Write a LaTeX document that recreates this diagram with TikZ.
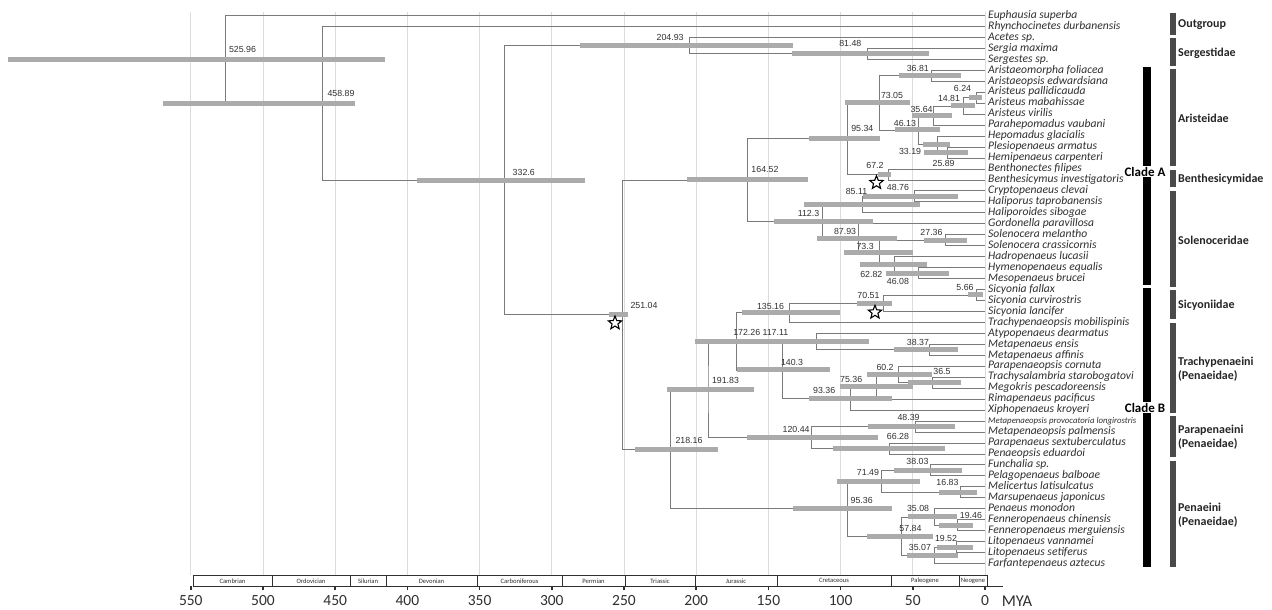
\documentclass[tikz,border=0pt]{standalone}
\usepackage{fontspec}
\setmainfont{Carlito}
\newfontfamily\agefont{Liberation Sans}
\usetikzlibrary{shapes.geometric}

\definecolor{branchgray}{HTML}{7A7A7A}
\definecolor{hpdgray}{HTML}{ABABAB}
\definecolor{gridgray}{HTML}{DCDCDC}
\definecolor{famgray}{HTML}{4A4A4A}
\definecolor{txtgray}{HTML}{303030}

\tikzset{
  branch/.style={draw=branchgray, line width=0.8pt},
  hpd/.style={draw=hpdgray, line width=5pt},
  taxon/.style={anchor=west, inner xsep=3pt, inner ysep=0pt, text height=8pt, text depth=2.5pt,
    font=\fontsize{11.6}{12}\selectfont\itshape, text=txtgray},
  agelbl/.style={font=\agefont\fontsize{8.8}{9}\selectfont, text=txtgray, inner sep=0pt},
  fossil/.style={star, star points=5, star point ratio=2.3, draw=black, fill=white,
    line width=1.1pt, minimum size=14pt, inner sep=0pt},
  family/.style={anchor=west, align=left, inner sep=0pt, text=black!85,
    font=\fontsize{12}{14}\selectfont\bfseries},
  cladelbl/.style={inner sep=0pt, font=\fontsize{13}{14}\selectfont\bfseries},
  period/.style={inner sep=0pt, text=txtgray, font=\fontsize{6.6}{7}\selectfont},
  ticklbl/.style={inner sep=0pt, text=txtgray, font=\fontsize{15.5}{16}\selectfont},
}

% node / age label / HPD left / HPD right / label shift x / label shift y
\def\nodelist{
  n52596/525.96/8/385/17/-9.5, n45889/458.89/163/355/18.6/-9.3,
  n3326/332.6/417/585/19/-8, n20493/204.93/580/793/-19/-8,
  n8148/81.48/792/929/-17/-10.5, n25104/251.04/609/628/21.5/-9,
  n16452/164.52/687/808/17.5/-10.7, n9534/95.34/809/880/15/-10.3,
  n7305/73.05/845/910/12.5/-7, n3681/36.81/899/961/-14/-7.5,
  n4613/46.13/895/940/-13.5/-6.6, n3564/35.64/912/952/-12/-6.5,
  n1481/14.81/951/975/-14.6/-7.6, n624/6.24/969/982/-13.5/-9.4,
  n3319/33.19/923/950/-27/7.4, n2589/25.89/924/968/-4/10.8,
  n672/67.2/878/891/-13/-9.4, n1123/112.3/774/873/-14.3/-8,
  n8511/85.11/804/920/-5.6/-12.9, n4876/48.76/863/958/-16.6/-8.6,
  n8793/87.93/817/897/-13/-7, n733/73.3/844/913/-14/-6.5,
  n2736/27.36/924/967/-14/-8, n6282/62.82/860/927/-23/9.2,
  n4608/46.08/886/949/-20.5/8.6, n21816/218.16/635/718/19/-9,
  n19183/191.83/667/754/17.5/-8.7, n17226/172.26/695/785/10.5/-8.7,
  n13516/135.16/742/840/-19.3/-6.8, n7051/70.51/857/892/-14.7/-8.2,
  n566/5.66/968/983/-11.8/-7.7, n1403/140.3/737/830/9.6/-7.3,
  n11711/117.11/763/869/-40.5/-9, n3837/38.37/894/958/-11.6/-7,
  n9336/93.36/809/892/-26/-7.7, n7536/75.36/840/913/-25/-7.5,
  n602/60.2/867/932/-13/-7, n365/36.5/908/961/9.7/-11,
  n12044/120.44/747/878/-15/-8.2, n4839/48.39/868/955/-6.6/-9.2,
  n6628/66.28/833/945/8.7/-11.7, n9536/95.36/793/892/14.4/-8.7,
  n7149/71.49/837/920/-13.8/-9, n3803/38.03/894/962/-12.6/-8.6,
  n1683/16.83/939/977/-13.2/-10, n5784/57.84/867/933/9/-7.8,
  n3508/35.08/908/957/-16.3/-8.6, n1946/19.46/939/973/14/-9.4,
  n3507/35.07/907/958/-14.4/-7.6, n1952/19.52/937/973/-10.8/-8.8}

\begin{document}
\begin{tikzpicture}[x=1pt, y=-1pt]
  \useasboundingbox (0,0) rectangle (1272,610);
  \fill[white] (0,0) rectangle (1272,610);

  % time grid, every 50 MYA
  \foreach \k in {0,...,11}
    \draw[gridgray, line width=0.8pt] (985-72.2*\k,12) -- (985-72.2*\k,575);

  \begin{scope}[shift={(985,15.5)}, x=-1.444pt, y=-10.96pt]
    \foreach \sp [count=\i from 0] in {Euphausia superba, Rhynchocinetes durbanensis, Acetes sp.,
      Sergia maxima, Sergestes sp., Aristaeomorpha foliacea, Aristaeopsis edwardsiana,
      Aristeus pallidicauda, Aristeus mabahissae, Aristeus virilis, Parahepomadus vaubani,
      Hepomadus glacialis, Plesiopenaeus armatus, Hemipenaeus carpenteri, Benthonectes filipes,
      Benthesicymus investigatoris, Cryptopenaeus clevai, Haliporus taprobanensis,
      Haliporoides sibogae, Gordonella paravillosa, Solenocera melantho, Solenocera crassicornis,
      Hadropenaeus lucasii, Hymenopenaeus equalis, Mesopenaeus brucei, Sicyonia fallax,
      Sicyonia curvirostris, Sicyonia lancifer, Trachypenaeopsis mobilispinis,
      Atypopenaeus dearmatus, Metapenaeus ensis, Metapenaeus affinis, Parapenaeopsis cornuta,
      Trachysalambria starobogatovi, Megokris pescadoreensis, Rimapenaeus pacificus,
      Xiphopenaeus kroyeri, {\fontsize{8.8}{9}\selectfont Metapenaeopsis provocatoria longirostris},
      Metapenaeopsis palmensis, Parapenaeus sextuberculatus, Penaeopsis eduardoi, Funchalia sp.,
      Pelagopenaeus balboae, Melicertus latisulcatus, Marsupenaeus japonicus, Penaeus monodon,
      Fenneropenaeus chinensis, Fenneropenaeus merguiensis, Litopenaeus vannamei,
      Litopenaeus setiferus, Farfantepenaeus aztecus}
      \node[taxon] (t\i) at (0,\i) {\sp};

    % internal nodes at (age, row)
    \foreach \nd/\a/\r in {n52596/525.96/4.004, n45889/458.89/8.008, n3326/332.6/15.017,
      n20493/204.93/2.75, n8148/81.48/3.5, n25104/251.04/27.283, n16452/164.52/15.008,
      n9534/95.34/11.234, n7305/73.05/7.969, n3681/36.81/5.5, n4613/46.13/10.438,
      n3564/35.64/9.125, n1481/14.81/8.25, n624/6.24/7.5, n3319/33.19/11.75,
      n2589/25.89/12.5, n672/67.2/14.5, n1123/112.3/18.781, n8511/85.11/17.25,
      n4876/48.76/16.5, n8793/87.93/20.313, n733/73.3/21.625, n2736/27.36/20.5,
      n6282/62.82/22.75, n4608/46.08/23.5, n21816/218.16/39.558, n19183/191.83/34.117,
      n17226/172.26/29.734, n13516/135.16/27.125, n7051/70.51/26.25, n566/5.66/25.5,
      n1403/140.3/32.344, n11711/117.11/29.75, n3837/38.37/30.5, n9336/93.36/34.938,
      n7536/75.36/33.875, n602/60.2/32.75, n365/36.5/33.5, n12044/120.44/38.5,
      n4839/48.39/37.5, n6628/66.28/39.5, n9536/95.36/45, n7149/71.49/42.5,
      n3803/38.03/41.5, n1683/16.83/43.5, n5784/57.84/47.5, n3508/35.08/45.75,
      n1946/19.46/46.5, n3507/35.07/49.25, n1952/19.52/48.5}
      \coordinate (\nd) at (\a,\r);
  \end{scope}

  % outgroups and Sergestidae
  \draw[branch] (t0.west) -| (n52596) |- (n45889);
  \draw[branch] (t1.west) -| (n45889) |- (n3326);
  \draw[branch] (n20493) -| (n3326) |- (n25104);
  \draw[branch] (t2.west) -| (n20493) |- (n8148);
  \draw[branch] (t3.west) -| (n8148) |- (t4.west);
  \draw[branch] (n16452) -| (n25104) |- (n21816);
  % clade A
  \draw[branch] (n9534) -| (n16452) |- (n1123);
  \draw[branch] (n7305) -| (n9534) |- (n672);
  \draw[branch] (n3681) -| (n7305) |- (n4613);
  \draw[branch] (t5.west) -| (n3681) |- (t6.west);
  \draw[branch] (n3564) -| (n4613) |- (n3319);
  \draw[branch] (n1481) -| (n3564) |- (t10.west);
  \draw[branch] (n624) -| (n1481) |- (t9.west);
  \draw[branch] (t7.west) -| (n624) |- (t8.west);
  \draw[branch] (t11.west) -| (n3319) |- (n2589);
  \draw[branch] (t12.west) -| (n2589) |- (t13.west);
  \draw[branch] (t14.west) -| (n672) |- (t15.west);
  \draw[branch] (n8511) -| (n1123) |- (n8793);
  \draw[branch] (n4876) -| (n8511) |- (t18.west);
  \draw[branch] (t16.west) -| (n4876) |- (t17.west);
  \draw[branch] (t19.west) -| (n8793) |- (n733);
  \draw[branch] (n2736) -| (n733) |- (n6282);
  \draw[branch] (t20.west) -| (n2736) |- (t21.west);
  \draw[branch] (t22.west) -| (n6282) |- (n4608);
  \draw[branch] (t23.west) -| (n4608) |- (t24.west);
  % clade B
  \draw[branch] (n19183) -| (n21816) |- (n9536);
  \draw[branch] (n17226) -| (n19183) |- (n12044);
  \draw[branch] (n13516) -| (n17226) |- (n1403);
  \draw[branch] (n7051) -| (n13516) |- (t28.west);
  \draw[branch] (n566) -| (n7051) |- (t27.west);
  \draw[branch] (t25.west) -| (n566) |- (t26.west);
  \draw[branch] (n11711) -| (n1403) |- (n9336);
  \draw[branch] (t29.west) -| (n11711) |- (n3837);
  \draw[branch] (t30.west) -| (n3837) |- (t31.west);
  \draw[branch] (n7536) -| (n9336) |- (t36.west);
  \draw[branch] (n602) -| (n7536) |- (t35.west);
  \draw[branch] (t32.west) -| (n602) |- (n365);
  \draw[branch] (t33.west) -| (n365) |- (t34.west);
  \draw[branch] (n4839) -| (n12044) |- (n6628);
  \draw[branch] (t37.west) -| (n4839) |- (t38.west);
  \draw[branch] (t39.west) -| (n6628) |- (t40.west);
  \draw[branch] (n7149) -| (n9536) |- (n5784);
  \draw[branch] (n3803) -| (n7149) |- (n1683);
  \draw[branch] (t41.west) -| (n3803) |- (t42.west);
  \draw[branch] (t43.west) -| (n1683) |- (t44.west);
  \draw[branch] (n3508) -| (n5784) |- (n3507);
  \draw[branch] (t45.west) -| (n3508) |- (n1946);
  \draw[branch] (t46.west) -| (n1946) |- (t47.west);
  \draw[branch] (n1952) -| (n3507) |- (t50.west);
  \draw[branch] (t48.west) -| (n1952) |- (t49.west);

  % 95% HPD bars, then the ages
  \foreach \nd/\lbl/\lo/\hi/\dx/\dy in \nodelist
    \draw[hpd] (\lo,0 |- \nd) -- (\hi,0 |- \nd);
  \foreach \nd/\lbl/\lo/\hi/\dx/\dy in \nodelist
    \node[agelbl] at ([shift={(\dx,\dy)}]\nd) {\lbl};

  % calibration points
  \node[fossil] (f1) at ([shift={(-7.5,8.5)}]n25104) {};
  \node[fossil] (f2) at ([shift={(-11.5,8.3)}]n672) {};
  \node[fossil] (f3) at ([shift={(-8.2,9.1)}]n7051) {};

  % clades
  \fill (1143,67) rectangle (1151,166);
  \fill (1143,177) rectangle (1151,285);
  \node[cladelbl] (cA) at (1145,171.5) {Clade A};
  \fill (1143,288) rectangle (1151,402);
  \fill (1143,413) rectangle (1151,567);
  \node[cladelbl] (cB) at (1145,407.5) {Clade B};

  % families
  \foreach \top/\bot/\fam [count=\j] in {13/35/Outgroup, 38/66/Sergestidae, 69/166/Aristeidae,
      170/187/Benthesicymidae, 191/287/Solenoceridae, 290/319/Sicyoniidae,
      323/413/{Trachypenaeini\\(Penaeidae)}, 416/457/{Parapenaeini\\(Penaeidae)},
      461/567/{Penaeini\\(Penaeidae)}} {
    \fill[famgray] (1169.5,\top) rectangle (1175.5,\bot);
    \node[family] (fam\j) at (1178,{(\top+\bot)/2+1}) {\fam};
  }

  % geological time scale
  \draw[txtgray, line width=0.6pt] (193,575) -- (987,575);
  \draw[txtgray, line width=0.8pt] (193,586) -- (1003,586);
  \foreach \x in {193,272,350,386,477,562,625,695,777,891,959,987}
    \draw[txtgray, line width=0.6pt] (\x,575) -- (\x,586);
  \foreach \a/\b/\per in {193/272/Cambrian, 272/350/Ordovician, 350/386/Silurian,
      386/477/Devonian, 477/562/Carboniferous, 562/625/Permian, 625/695/Triassic,
      695/777/Jurassic, 777/891/Cretaceous, 891/959/Paleogene, 959/987/Neogene}
    \node[period] at ({(\a+\b)/2},580.8) {\per};
  \foreach \k [evaluate=\k as \mya using int(50*\k)] in {0,...,11} {
    \draw[txtgray, line width=1.5pt] (985-72.2*\k,586) -- ++(0,4);
    \node[ticklbl] at (985-72.2*\k,600.5) {\mya};
  }
  \node[ticklbl, font=\fontsize{16.5}{17}\selectfont] (mya) at (1017,601) {MYA};
\end{tikzpicture}
\end{document}
